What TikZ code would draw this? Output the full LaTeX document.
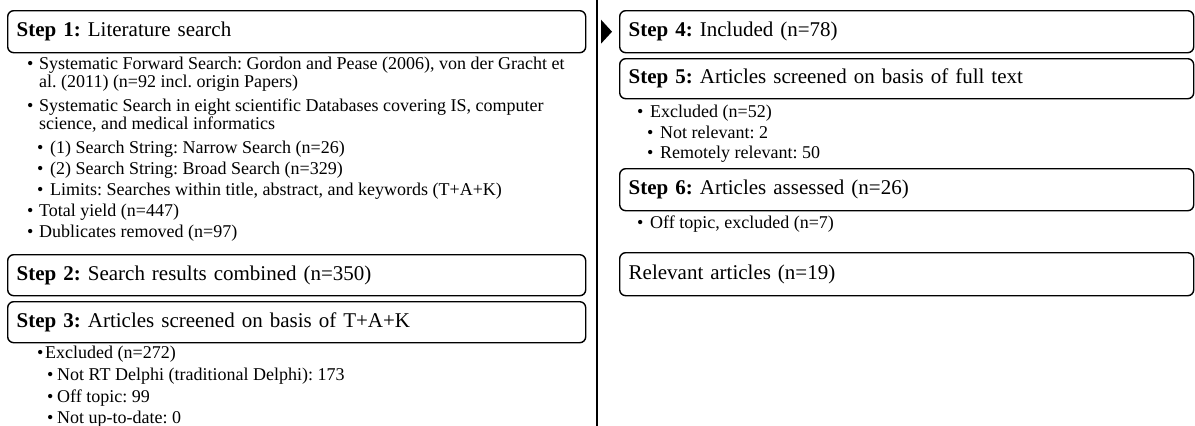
\documentclass[tikz,border=0pt]{standalone}
\usepackage{fontspec}
\setmainfont{Liberation Serif}
\newfontfamily\titlefont{Liberation Serif}[WordSpace=1.4]
\usetikzlibrary{positioning,calc}
\frenchspacing

\newcommand{\blt}[1][10pt]{\makebox[#1][l]{\textbullet}}

\tikzset{
	stepbox/.style={draw, rounded corners=6pt, line width=1.4pt, anchor=north west,
		inner xsep=9pt, inner ysep=0pt, align=left, font=\titlefont\fontsize{21}{25}\selectfont},
	leftbox/.style={stepbox, text width=560pt},
	rightbox/.style={stepbox, text width=556pt},
	item/.style={anchor=base west, inner sep=0pt, align=left, font=\fontsize{18}{21}\selectfont}
}

\begin{document}
\begin{tikzpicture}[x=1pt,y=-1pt]
		\useasboundingbox (0,0) rectangle (1195,426);
		% left column
		\node[leftbox, minimum height=42pt] (s1) at (7,10) {\textbf{Step 1:} Literature search};
		\node[item] (a1) at (27,69) {\blt[12pt]Systematic Forward Search: Gordon and Pease (2006), von der Gracht et};
		\node[item] (a1b) at (39,87) {al. (2011) (n=92 incl. origin Papers)};
		\node[item] (a2) at (27,111) {\blt[12pt]Systematic Search in eight scientific Databases covering IS, computer};
		\node[item] (a2b) at (39,129) {science, and medical informatics};
		\node[item] (a3) at (37,153) {\blt[13pt](1) Search String: Narrow Search (n=26)};
		\node[item] (a4) at (37,174) {\blt[13pt](2) Search String: Broad Search (n=329)};
		\node[item] (a5) at (37,195) {\blt[13pt]Limits: Searches within title, abstract, and keywords (T+A+K)};
		\node[item] (a6) at (27,216) {\blt[12pt]Total yield (n=447)};
		\node[item] (a7) at (27,237) {\blt[12pt]Dublicates removed (n=97)};
		\node[leftbox, minimum height=41pt] (s2) at (7,254) {\textbf{Step 2:} Search results combined (n=350)};
		\node[leftbox, minimum height=41pt] (s3) at (7,301) {\textbf{Step 3:} Articles screened on basis of T+A+K};
		\node[item] (b1) at (37,358) {\blt[8pt]Excluded (n=272)};
		\node[item] (b2) at (47,380) {\blt[10pt]Not RT Delphi (traditional Delphi): 173};
		\node[item] (b3) at (47,402) {\blt[10pt]Off topic: 99};
		\node[item] (b4) at (47,423) {\blt[10pt]Not up-to-date: 0};
		% divider
		\coordinate (top) at (597,0);
		\coordinate (bot) at (597,426);
		\draw[line width=1.3pt] (top) -- (bot);
		% right column
		\node[rightbox, minimum height=42pt] (s4) at (619,10) {\textbf{Step 4:} Included (n=78)};
		\fill (s4.west) ++(-7,0) -- ++(-11,-12) -- ++(0,24) -- cycle;
		\node[rightbox, minimum height=40pt] (s5) at (619,58) {\textbf{Step 5:} Articles screened on basis of full text};
		\node[item] (c1) at (637,117) {\blt[13pt]Excluded (n=52)};
		\node[item] (c2) at (647,138) {\blt[13pt]Not relevant: 2};
		\node[item] (c3) at (647,158) {\blt[13pt]Remotely relevant: 50};
		\node[rightbox, minimum height=42pt] (s6) at (619,168) {\textbf{Step 6:} Articles assessed (n=26)};
		\node[item] (d1) at (637,228) {\blt[13pt]Off topic, excluded (n=7)};
		\node[rightbox, minimum height=43pt] (s7) at (619,252) {Relevant articles (n=19)};
	\end{tikzpicture}
\end{document}
